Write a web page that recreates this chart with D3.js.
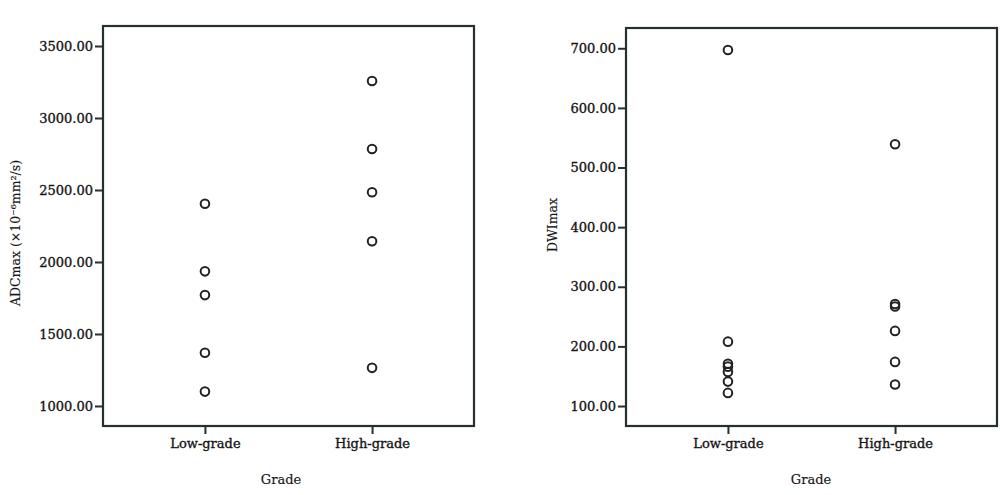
<!DOCTYPE html>
<html>
<head>
<meta charset="utf-8">
<script src="https://cdn.jsdelivr.net/npm/d3@7"></script>
<style>
html,body{margin:0;padding:0;background:#fff;}
svg{display:block;}
</style>
</head>
<body>
<svg id="chart" width="1000" height="495"></svg>
<script>
const categories = ["Low-grade", "High-grade"];
const adcLow = [2405, 1935, 1770, 1370, 1100];
const adcHigh = [3257, 2785, 2484, 2144, 1265];
const adcTicks = [1000, 1500, 2000, 2500, 3000, 3500];
const dwiLow = [697, 208, 171, 166, 157, 141, 122];
const dwiHigh = [539, 271, 267, 226, 174, 136];
const dwiTicks = [100, 200, 300, 400, 500, 600, 700];

const svg = d3.select("#chart");
const font = "DejaVu Serif, serif";
const ink = "#263030";
const txt = "#151515";

function styleText(sel, size) {
  sel.attr("fill", txt).style("font-family", font).style("font-size", size)
    .attr("stroke", txt).attr("stroke-width", 0.35);
}

function panel(cfg) {
  const g = svg.append("g");
  const x = d3.scalePoint().domain(categories).range([cfg.left, cfg.right]).padding(0.61);
  const y = d3.scaleLinear().domain(cfg.domain).range([426, cfg.top]);

  const yAxis = d3.axisLeft(y).tickValues(cfg.ticks).tickSize(8).tickPadding(2)
    .tickFormat(d3.format(".2f"));
  const ya = g.append("g").attr("transform", `translate(${cfg.left},0)`).call(yAxis);
  ya.select(".domain").remove();
  ya.selectAll(".tick line").attr("stroke", ink).attr("stroke-width", 2);
  styleText(ya.selectAll(".tick text"), "13px");

  const xAxis = d3.axisBottom(x).tickSize(8).tickPadding(5);
  const xa = g.append("g").attr("transform", `translate(0,426)`).call(xAxis);
  xa.select(".domain").remove();
  xa.selectAll(".tick line").attr("stroke", ink).attr("stroke-width", 2);
  styleText(xa.selectAll(".tick text"), "13px");

  g.append("rect").attr("x", cfg.left).attr("y", cfg.top)
    .attr("width", cfg.right - cfg.left).attr("height", 426 - cfg.top)
    .attr("fill", "none").attr("stroke", ink).attr("stroke-width", 2.2);

  const pts = [];
  cfg.low.forEach(v => pts.push({c: categories[0], v}));
  cfg.high.forEach(v => pts.push({c: categories[1], v}));
  g.selectAll("circle.pt").data(pts).enter().append("circle")
    .attr("class", "pt")
    .attr("cx", d => x(d.c)).attr("cy", d => y(d.v)).attr("r", 4.3)
    .attr("fill", "none").attr("stroke", "#222").attr("stroke-width", 2);

  const xt = g.append("text").attr("x", cfg.xTitleX).attr("y", 484)
    .attr("text-anchor", "middle").text("Grade");
  styleText(xt, "13px");
  xt.attr("stroke-width", 0.15);
  const yt = g.append("text")
    .attr("transform", `translate(${cfg.yTitleX},${cfg.yTitleY}) rotate(-90)`)
    .attr("text-anchor", "middle").attr("dominant-baseline", "central")
    .text(cfg.yTitle);
  styleText(yt, "12.5px");
  yt.attr("stroke-width", 0.15);
}

panel({left: 103, right: 474, top: 26, domain: [861, 3639], ticks: adcTicks,
  low: adcLow, high: adcHigh, xTitleX: 281, yTitleX: 15, yTitleY: 233,
  yTitle: "ADCmax (×10⁻⁶mm²/s)"});
panel({left: 626, right: 997, top: 28, domain: [66.5, 734], ticks: dwiTicks,
  low: dwiLow, high: dwiHigh, xTitleX: 811, yTitleX: 552, yTitleY: 225,
  yTitle: "DWImax"});
</script>
</body>
</html>
